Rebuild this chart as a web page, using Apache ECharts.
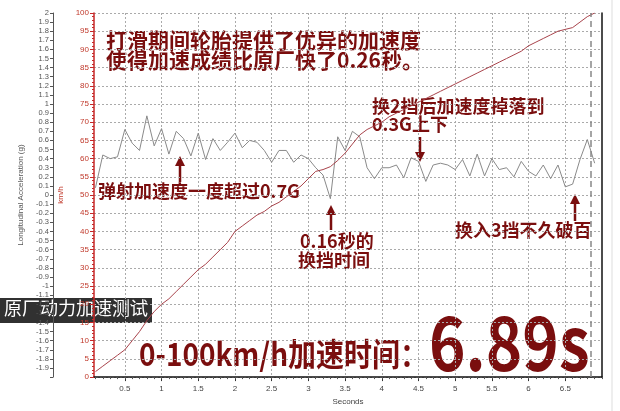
<!DOCTYPE html>
<html><head><meta charset="utf-8">
<script src="https://cdn.jsdelivr.net/npm/echarts@6/dist/echarts.min.js"></script>
<style>html,body{margin:0;padding:0;background:#fff}#c{width:620px;height:411px}</style>
</head><body><div id="c"></div>
<script>
// sample times (s)
const times = [0.1,0.2,0.3,0.4,0.5,0.6,0.7,0.8,0.9,1.0,1.1,1.2,1.3,1.4,1.5,1.6,1.7,1.8,1.9,2.0,
  2.1,2.2,2.3,2.4,2.5,2.6,2.7,2.8,2.9,3.0,3.1,3.2,3.3,3.4,3.5,3.6,3.7,3.8,3.9,4.0,
  4.1,4.2,4.3,4.4,4.5,4.6,4.7,4.8,4.9,5.0,5.1,5.2,5.3,5.4,5.5,5.6,5.7,5.8,5.9,6.0,
  6.1,6.2,6.3,6.4,6.5,6.6,6.7,6.8,6.9];
// longitudinal acceleration (g)
const accel = [0.08,0.44,0.40,0.42,0.72,0.57,0.49,0.87,0.54,0.73,0.45,0.70,0.62,0.43,0.68,0.39,0.62,0.49,0.58,0.68,
  0.52,0.60,0.58,0.49,0.36,0.49,0.49,0.36,0.44,0.40,0.30,0.22,-0.04,0.64,0.49,0.70,0.64,0.30,0.18,0.30,
  0.30,0.33,0.19,0.41,0.37,0.15,0.33,0.35,0.33,0.28,0.39,0.21,0.45,0.21,0.40,0.28,0.30,0.20,0.37,0.26,
  0.21,0.33,0.18,0.33,0.09,0.12,0.39,0.61,0.35];
// speed (km/h)
const speed = [1.5,3,4.5,6,7.5,10,12.5,15.5,18,20,21.5,23.5,25.5,27.5,29.5,31,33,35,37,40,
  41.5,43,44.5,45.5,47,48,49.5,51,52.5,54.5,56.5,57,57.8,59.5,61.5,64,66.5,68,69,70,
  71.5,72.5,73.5,74.5,75.5,76.5,77.5,78.5,79.5,80.5,81.5,82.5,83.5,84.5,85.5,86.5,87.5,88.5,89.5,91,
  92,93,94,95,95.5,96,97.5,99,100];
// x tick labels (s)
const xLabels = [0.5,1,1.5,2,2.5,3,3.5,4,4.5,5,5.5,6,6.5];
const xMinor = [0.1,0.2,0.3,0.4,0.5,0.6,0.7,0.8,0.9,1,1.1,1.2,1.3,1.4,1.5,1.6,1.7,1.8,1.9,2,2.1,2.2,2.3,2.4,2.5,2.6,2.7,2.8,2.9,3,
  3.1,3.2,3.3,3.4,3.5,3.6,3.7,3.8,3.9,4,4.1,4.2,4.3,4.4,4.5,4.6,4.7,4.8,4.9,5,5.1,5.2,5.3,5.4,5.5,5.6,5.7,5.8,5.9,6,
  6.1,6.2,6.3,6.4,6.5,6.6,6.7,6.8,6.9,7];
const finishTime = 6.84;

const DR = '#7a0e0e';
const CJK = '"Noto Sans CJK SC","Noto Sans",sans-serif';
const chart = echarts.init(document.getElementById('c'), null, {renderer:'canvas'});

function arrow(x, yTail, yHead) {
  const dir = yHead < yTail ? 1 : -1;
  return {type:'group', children:[
    {type:'line', shape:{x1:x, y1:yTail, x2:x, y2:yHead + dir*6}, style:{stroke:DR, lineWidth:2.5}},
    {type:'polygon', shape:{points:[[x, yHead],[x-5, yHead + dir*10],[x+5, yHead + dir*10]]}, style:{fill:DR}}
  ]};
}
function txt(x, y, s, size, weight, color) {
  return {type:'text', left:x, top:y, style:{text:s, fill:color||DR, font:(weight||'bold')+' '+size+'px '+CJK}};
}
function stxt(x, y, s, size, sy) {
  return {type:'text', x:x, y:y, scaleY:sy, style:{text:s, fill:DR, verticalAlign:'top', align:'left', font:'bold '+size+'px '+CJK}};
}

const option = {
  backgroundColor:'#fff',
  animation:false,
  grid:{left:94, right:18, top:13, bottom:33},
  xAxis:[{
    type:'value', min:0.08, max:7.0, position:'bottom',
    name:'Seconds', nameLocation:'middle', nameGap:15,
    nameTextStyle:{color:'#444', fontSize:8, fontFamily:'Liberation Sans'},
    axisLine:{show:true, onZero:false, lineStyle:{color:'#111', width:1.5}},
    axisTick:{show:true, customValues:xLabels, length:4, lineStyle:{color:'#333'}},
    axisLabel:{customValues:xLabels, color:'#444', fontSize:8, margin:8, fontFamily:'Liberation Sans'},
    splitLine:{show:true, lineStyle:{color:'#aaa', type:[2,2], width:1}}
  },{
    type:'value', min:0.08, max:7.0, position:'bottom',
    axisLine:{show:false, onZero:false},
    axisTick:{show:true, customValues:xMinor, length:2, lineStyle:{color:'#555'}},
    axisLabel:{show:false, customValues:xMinor},
    splitLine:{show:false}
  }],
  yAxis:[{
    type:'value', min:0, max:100, interval:5, position:'left',
    name:'km/h', nameLocation:'middle', nameGap:20,
    nameTextStyle:{color:'#c0392b', fontSize:8, fontFamily:'Liberation Sans'},
    axisLine:{show:true, onZero:false, lineStyle:{color:'#c62828', width:1.5}},
    axisTick:{show:true, length:4, lineStyle:{color:'#c62828'}},
    minorTick:{show:true, splitNumber:5, length:2, lineStyle:{color:'#c62828'}},
    axisLabel:{color:'#c0392b', fontSize:8, margin:5, fontFamily:'Liberation Sans'},
    splitLine:{show:true, lineStyle:{color:'#aaa', type:[2,2], width:1}}
  },{
    type:'value', min:-2, max:2, interval:0.1, position:'left', offset:41,
    name:'Longitudinal Acceleration (g)', nameLocation:'middle', nameGap:20,
    nameTextStyle:{color:'#555', fontSize:8, fontFamily:'Liberation Sans'},
    axisLine:{show:true, onZero:false, lineStyle:{color:'#555', width:1}},
    axisTick:{show:true, length:3, lineStyle:{color:'#555'}},
    axisLabel:{color:'#555', fontSize:7.5, margin:4, fontFamily:'Liberation Sans',
      formatter:function(v){ return Math.abs(v + 2) < 1e-6 ? '' : String(Math.round(v*10)/10); }},
    splitLine:{show:false}
  },{
    type:'value', min:0, max:100, position:'right',
    axisLine:{show:true, onZero:false, lineStyle:{color:'#111', width:1.5}},
    axisTick:{show:false}, axisLabel:{show:false}, splitLine:{show:false}
  }],
  series:[{
    name:'accel', type:'line', xAxisIndex:0, yAxisIndex:1,
    data: times.map((t,i)=>[t, accel[i]]),
    symbol:'none', lineStyle:{color:'#8a8a8a', width:1}, z:3,
    markLine:{silent:true, symbol:'none', label:{show:false},
      lineStyle:{color:'#888', type:[6,4], width:1.5},
      data:[{xAxis:finishTime}]}
  },{
    name:'speed', type:'line', xAxisIndex:0, yAxisIndex:0,
    data: times.map((t,i)=>[t, speed[i]]),
    symbol:'none', lineStyle:{color:'#a8434b', width:1}, z:3
  }],
  graphic:[
    {type:'line', shape:{x1:612, y1:0, x2:612, y2:411}, style:{stroke:'#ddd', lineWidth:1}},
    txt(106, 30, '打滑期间轮胎提供了优异的加速度', 21),
    txt(106, 50, '使得加速成绩比原厂快了0.26秒。', 21),
    txt(98, 182, '弹射加速度一度超过0.7G', 18),
    arrow(180, 182, 156),
    txt(300, 232, '0.16秒的', 18),
    txt(298, 251, '换挡时间', 18),
    arrow(331, 230, 205),
    txt(372, 97, '换2挡后加速度掉落到', 18),
    txt(372, 115, '0.3G上下', 18),
    arrow(420, 137, 162),
    txt(455, 221, '换入3挡不久破百', 18),
    arrow(575, 221, 194),
    {type:'rect', shape:{x:0, y:298, width:152, height:25}, style:{fill:'rgba(20,20,20,0.88)'}},
    txt(4, 299, '原厂动力加速测试', 18, 'normal', '#fff'),
    stxt(139, 338, '0-100km/h加速时间：', 28, 1.14),
    stxt(429, 306, '6.89s', 62, 1.2)
  ]
};
chart.setOption(option);
</script></body></html>
